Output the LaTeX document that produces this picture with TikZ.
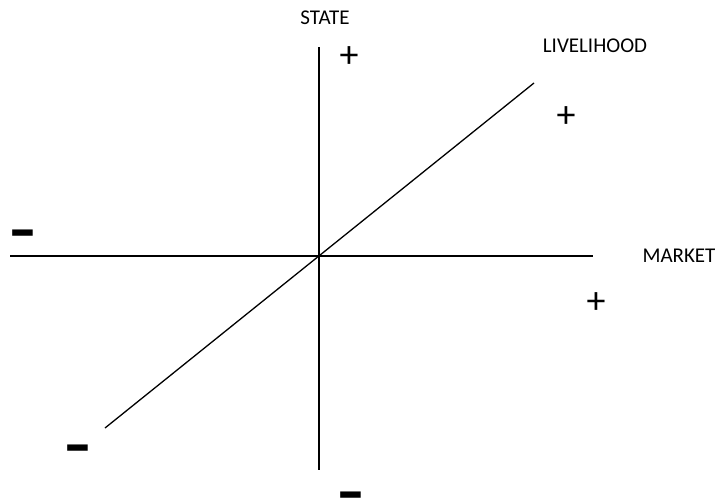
\documentclass[tikz,border=0pt]{standalone}
\usepackage{fontspec}
\setmainfont{Carlito}
\usepackage{tikz}
\usetikzlibrary{positioning}

\begin{document}
\begin{tikzpicture}[
        x=1pt, y=-1pt,
        font=\fontsize{21}{24}\selectfont,
        axis/.style={line width=1.3pt, line cap=butt},
        label/.style={inner sep=0pt, anchor=center},
        plus/.style={inner sep=0pt, font=\fontsize{38}{40}\selectfont},
        minus/.style={inner sep=0pt, font=\fontsize{40}{40}\selectfont\bfseries}
    ]
        \useasboundingbox (0,0) rectangle (718,501);

        % Axis end points
        \coordinate (origin) at (319,256);
        \coordinate (stateTop) at (319,47);
        \coordinate (stateBot) at (319,470);
        \coordinate (marketL) at (10,256);
        \coordinate (marketR) at (593,256);
        \coordinate (liveL) at (105,428);
        \coordinate (liveR) at (534,83);

        % Axes
        \draw[axis] (stateTop) -- (stateBot);
        \draw[axis] (marketL) -- (marketR);
        \draw[axis] (liveL) -- (liveR);

        % Axis names
        \node[label] (state) at (325,18) {STATE};
        \node[label] (livelihood) at (595,46) {LIVELIHOOD};
        \node[label] (market) at (679,256) {MARKET};

        % Signs
        \node[plus] (statePlus) at (349,57) {+};
        \node[plus] (livePlus) at (566,117) {+};
        \node[plus] (marketPlus) at (596,303) {+};
        \node[minus] (marketMinus) at (23,242) {\scalebox{1.45}[1.8]{–}};
        \node[minus] (liveMinus) at (78,457) {\scalebox{1.45}[1.8]{–}};
        \node[minus] (stateMinus) at (351,504) {\scalebox{1.45}[1.8]{–}};
    \end{tikzpicture}
\end{document}
